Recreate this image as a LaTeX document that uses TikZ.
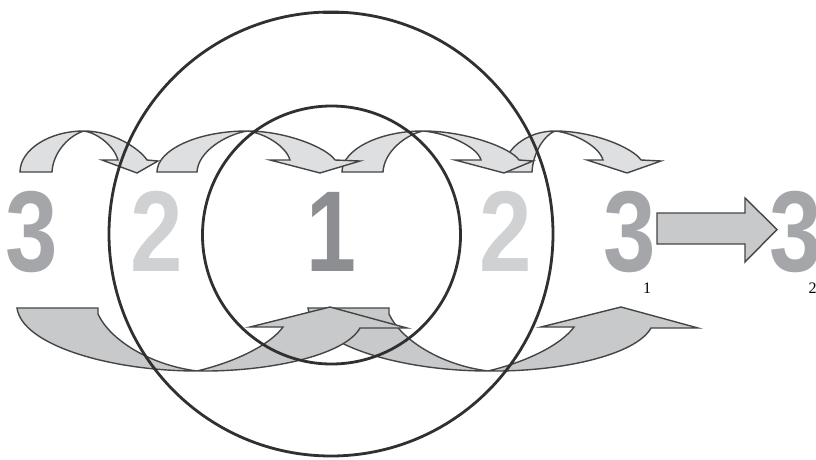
\documentclass[tikz,border=0pt]{standalone}
\usepackage{fontspec}
\setmainfont{Liberation Sans}
\newfontfamily\subfont{Liberation Serif}
\definecolor{ringcol}{HTML}{303030}
\definecolor{edgecol}{HTML}{454545}
\definecolor{topfill}{HTML}{DEDFE1}
\definecolor{botfill}{HTML}{C8C9CB}
\definecolor{threecol}{HTML}{A5A6A9}
\definecolor{twocol}{HTML}{D0D1D3}
\definecolor{onecol}{HTML}{8D8E92}
\tikzset{
  ring/.style={draw=ringcol, line width=2.8pt},
  toparrow/.style={fill=topfill, draw=edgecol, line width=1.4pt, line join=miter},
  botarrow/.style={fill=botfill, draw=edgecol, line width=1.4pt, line join=miter},
  bigdigit/.style={anchor=base, inner sep=0pt, font=\bfseries\fontsize{115}{115}\selectfont},
  subdigit/.style={anchor=base, inner sep=0pt, font=\subfont\fontsize{16}{16}\selectfont},
}
% a b t ni no bl tp br
\newcommand\toparr[8]{%
  \path[toparrow] (#1,172) .. controls (#1,150) and ({#1+0.45*(#3-#1)},131) .. (#3,131)
   .. controls ({#3+0.45*(#5-#3)},131) and ({#5-8},148) .. (#5,160)
   -- (#8,161) -- (#7,173) -- (#6,160) -- (#4,160)
   .. controls ({#4-4},146) and ({#3+0.4*(#4-#3)},133) .. (#3,131)
   .. controls ({#3-0.45*(#3-#2)},135) and ({#2+1},152) .. (#2,172) -- cycle;}
\newcommand\botarr{%
  \path[botarrow] (17,308) .. controls (22,345) and (110,371) .. (197,371)
   .. controls (270,372) and (345,355) .. (360,328)
   -- (407,328) -- (330,307) -- (250,327) -- (283,327)
   .. controls (270,345) and (235,362) .. (197,371)
   .. controls (150,365) and (110,340) .. (98,314)
   -- (98,308) -- cycle;}
\begin{document}
\begin{tikzpicture}[x=1pt,y=-1pt]
\path[use as bounding box, fill=white] (0,0) rectangle (816,460);
% digits
\node[bigdigit, text=threecol] (d3l) at (31.5,271) {\scalebox{0.82}[1]{3}};
\node[bigdigit, text=twocol] (d2l) at (157,271) {\scalebox{0.82}[1]{2}};
\node[bigdigit, text=onecol] (d1) at (331,271) {\scalebox{0.78}[1]{1}};
\node[bigdigit, text=twocol] (d2r) at (506,271) {\scalebox{0.82}[1]{2}};
\node[bigdigit, text=threecol] (d3r) at (629.5,271) {\scalebox{0.82}[1]{3}};
\node[bigdigit, text=threecol] (d3f) at (795.5,271) {\scalebox{0.82}[1]{3}};
\node[subdigit] (s1) at (647,293) {1};
\node[subdigit] (s2) at (812.5,293) {2};
% big arrow
\path[botarrow] (657,213) -- (745,213) -- (745,198) -- (777,229.5) -- (745,262) -- (745,244) -- (657,244) -- cycle;
% top arrows
\toparr{503}{532}{555}{603}{641}{587}{627}{661}
\toparr{342}{383}{423}{481}{519}{455}{504}{533}
\toparr{157}{197}{247}{290}{335}{270}{320}{360}
\toparr{20}{52}{84}{118}{147}{102}{137}{158}
% bottom arrows
\begin{scope}[xshift=291pt]\botarr\end{scope}
\botarr
% rings
\draw[ring] (331,234) circle[radius=222];
\draw[ring] (331.5,235) circle[radius=129];
\draw[draw=ringcol, line width=3.5pt] (323,12.5) -- (344,12.5);
\end{tikzpicture}
\end{document}
